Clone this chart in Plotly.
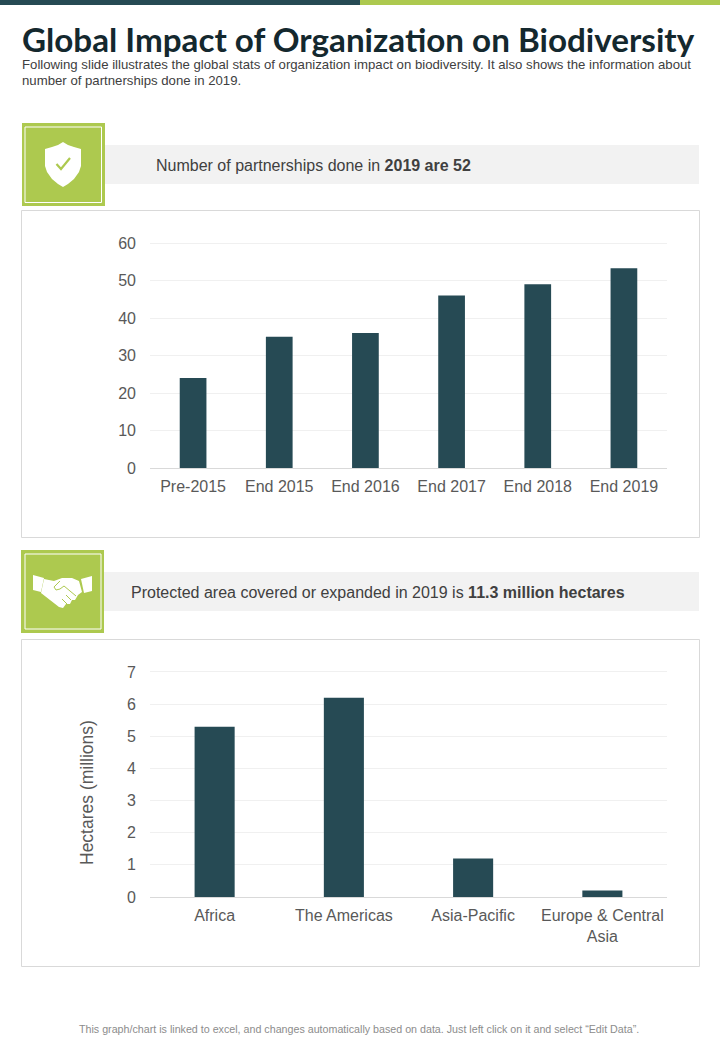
import plotly.graph_objects as go

W = 720
H = 1040

partner_cats = ["Pre-2015", "End 2015", "End 2016", "End 2017", "End 2018", "End 2019"]
partner_vals = [24, 35, 36, 46, 49, 53.3]
area_cats = ["Africa", "The Americas", "Asia-Pacific", "Europe & Central<br>Asia"]
area_vals = [5.3, 6.2, 1.2, 0.2]

DARK = "#264a54"
GREEN = "#adc94f"
TEXT = "#595959"


def px(x):
    return x / W


def py(y):
    return 1 - y / H


def rect(fig, x0, y0, x1, y1, fill="rgba(0,0,0,0)", line=None, lw=1):
    fig.add_shape(type="rect", xref="paper", yref="paper", x0=px(x0), x1=px(x1), y0=py(y0), y1=py(y1),
                  fillcolor=fill, line=dict(color=line, width=lw) if line else dict(width=0), layer="below")


def poly(fig, pts, fill):
    d = "M" + " L".join(f"{px(x):.5f},{py(y):.5f}" for x, y in pts) + " Z"
    fig.add_shape(type="path", xref="paper", yref="paper", path=d, fillcolor=fill, line=dict(width=0))


def stroke(fig, pts, color, lw=1):
    d = "M" + " L".join(f"{px(x):.5f},{py(y):.5f}" for x, y in pts)
    fig.add_shape(type="path", xref="paper", yref="paper", path=d, line=dict(color=color, width=lw))


def text(fig, x, y, s, size, color=TEXT, family="Liberation Sans", anchor="left", angle=0):
    fig.add_annotation(xref="paper", yref="paper", x=px(x), y=py(y), text=s, showarrow=False, xanchor=anchor,
                       yanchor="middle", font=dict(size=size, color=color, family=family), align="left", textangle=angle)


fig = go.Figure()
fig.add_trace(go.Bar(x=partner_cats, y=partner_vals, marker_color=DARK, xaxis="x", yaxis="y"))
fig.add_trace(go.Bar(x=area_cats, y=area_vals, marker_color=DARK, xaxis="x2", yaxis="y2"))

# top strip
rect(fig, 0, 0, 360, 5, fill=DARK)
rect(fig, 360, 0, 720, 5, fill=GREEN)

# banners and chart frames
rect(fig, 105, 145, 699, 184, fill="#f2f2f2")
rect(fig, 104, 572, 699, 611, fill="#f2f2f2")
rect(fig, 21.5, 210.5, 699.5, 537.5, line="#d9d9d9")
rect(fig, 21.5, 639.5, 699.5, 966.5, line="#d9d9d9")

# icon tiles
rect(fig, 22, 123, 105, 206, fill=GREEN)
rect(fig, 25, 127, 101.5, 202.5, line="#ffffff")
rect(fig, 21, 550, 104, 633, fill=GREEN)
rect(fig, 25, 554, 101, 629, line="#ffffff")

# shield
poly(fig, [(63, 142), (68, 145), (74, 147), (81, 149), (81, 166), (79, 172), (74, 179), (68, 184), (63, 187),
           (58, 184), (52, 179), (47, 172), (45, 166), (45, 149), (52, 147), (58, 145)], "#ffffff")
stroke(fig, [(56.5, 164), (61, 169), (70, 158)], GREEN, 2.2)

# handshake
poly(fig, [(33, 575), (44, 578), (41, 592), (33, 590)], "#ffffff")
poly(fig, [(92, 576), (81, 579), (84, 593), (92, 591)], "#ffffff")
poly(fig, [(44, 579), (54, 581), (62, 578), (72, 578), (79, 581), (82, 592), (78, 595), (75, 600), (72, 600),
           (70, 604), (66, 604), (63, 608), (59, 607), (50, 600), (41, 593)], "#ffffff")
stroke(fig, [(60, 581), (54, 587), (56, 590), (60, 589), (64, 586), (76, 596)], GREEN, 1)
stroke(fig, [(66, 595), (71, 600)], GREEN, 1)
stroke(fig, [(62, 599), (67, 604)], GREEN, 1)

# header text
text(fig, 20, 39, "<b>Global Impact of Organization on Biodiversity</b>", 33.2, "#14282e", "Lato")
text(fig, 20, 64.5, "Following slide illustrates the global stats of organization impact on biodiversity. It also shows the information about", 13.2, "#404040")
text(fig, 20, 81, "number of partnerships done in 2019.", 13.2, "#404040")
text(fig, 154, 165.5, "Number of partnerships done in <b>2019 are 52</b>", 16, "#404040")
text(fig, 129, 592.5, "Protected area covered or expanded in 2019 is <b>11.3 million hectares</b>", 16, "#404040")
text(fig, 359, 1029, "This graph/chart is linked to excel, and changes automatically based on data. Just left click on it and select “Edit Data”.",
     10.7, "#8c8c8c", anchor="center")
text(fig, 87, 793, "Hectares (millions)", 17.5, anchor="center", angle=-90)

axis_y = dict(gridcolor="#f0f0f0", gridwidth=1, zeroline=False, showline=False, ticks="", automargin=False,
              tickfont=dict(size=16, color=TEXT, family="Liberation Sans"), ticklabelstandoff=13)
axis_x = dict(showgrid=False, zeroline=False, showline=True, linecolor="#d9d9d9", linewidth=1, ticks="", automargin=False,
              tickfont=dict(size=16, color=TEXT, family="Liberation Sans"), ticklabelstandoff=4, tickangle=0)

# ranges run a little past the top tick, otherwise plotly drops the gridline at the edge
fig.update_layout(
    template="none",
    width=W,
    height=H,
    margin=dict(l=0, r=0, t=0, b=0, pad=0),
    paper_bgcolor="#ffffff",
    plot_bgcolor="#ffffff",
    showlegend=False,
    bargap=0.69,
    xaxis=dict(axis_x, domain=[px(150), px(667)], anchor="y"),
    yaxis=dict(axis_y, domain=[py(468), py(240)], anchor="x", range=[0, 60.8], dtick=10),
    xaxis2=dict(axis_x, domain=[px(150), px(667)], anchor="y2"),
    yaxis2=dict(axis_y, domain=[py(897), py(669)], anchor="x2", range=[0, 7.093], dtick=1),
)

fig.write_html("out.html", config={"displayModeBar": False}, post_script="document.body.style.margin='0';")
